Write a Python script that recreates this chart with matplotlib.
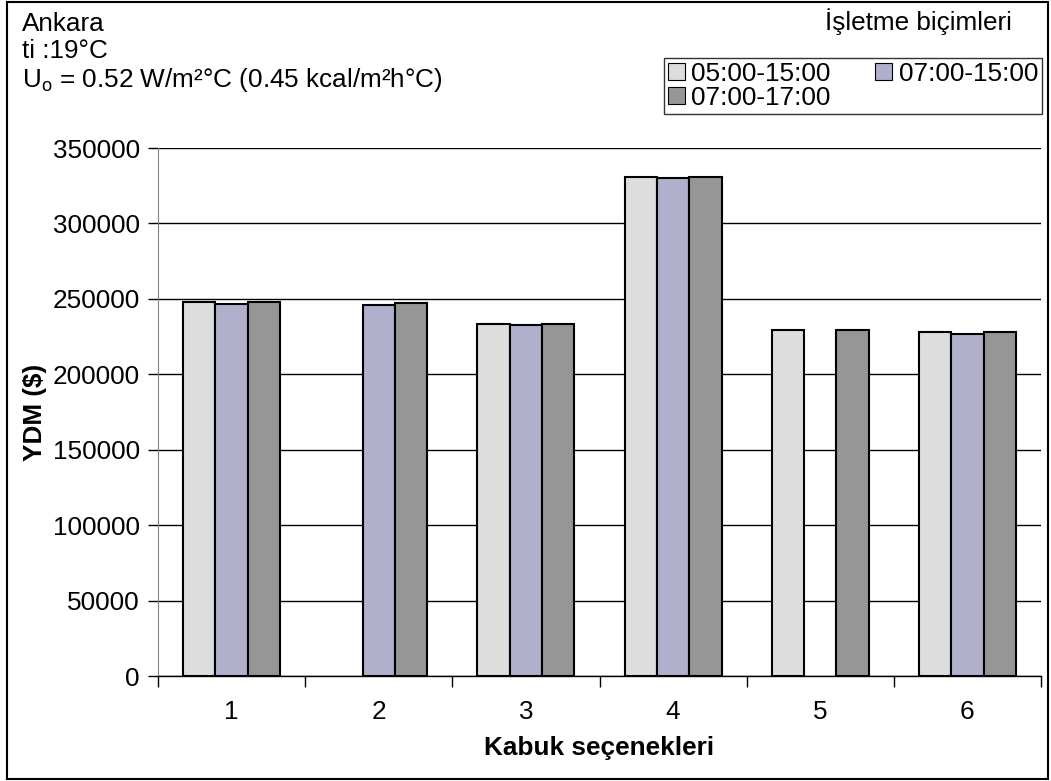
import numpy as np
import matplotlib
matplotlib.use("Agg")
import matplotlib.pyplot as plt
from matplotlib.patches import Rectangle

plt.rcParams['font.family'] = ['Liberation Sans', 'DejaVu Sans']

categories = ["1", "2", "3", "4", "5", "6"]
series_names = ["05:00-15:00", "07:00-15:00", "07:00-17:00"]
s1 = [248000, np.nan, 233600, 331100, 229300, 228200]
s2 = [246900, 245900, 232700, 330100, np.nan, 227000]
s3 = [248000, 247000, 233600, 331100, 229300, 228200]
yticks = [0, 50000, 100000, 150000, 200000, 250000, 300000, 350000]
colors = ["#DDDDDD", "#B0B0CC", "#969696"]

FS = 18.8
W, H = 1051, 781
fig = plt.figure(figsize=(W/100, H/100), dpi=100)
ax = fig.add_axes([158/W, 1-676/H, (1041-158)/W, (676-148)/H])

x = np.arange(len(categories))
w = 0.22
handles = []
for i, (vals, c, name) in enumerate(zip([s1, s2, s3], colors, series_names)):
    b = ax.bar(x + (i-1)*w, vals, width=w, color=c, edgecolor="black", linewidth=1.5,
               label=name, zorder=3)
    handles.append(b)

ax.set_xlim(-0.5, len(categories)-0.5)
ax.set_ylim(0, 350000)
ax.set_yticks(yticks)
ax.set_yticklabels([str(v) for v in yticks], fontsize=FS)
ax.yaxis.grid(True, color="black", linewidth=1.0, zorder=0)
ax.set_axisbelow(True)
ax.set_xticks(x)
ax.set_xticklabels(categories, fontsize=FS)
ax.set_xticks(np.arange(-0.5, len(categories)), minor=True)
ax.tick_params(axis='x', which='major', length=0, pad=17)
ax.tick_params(axis='x', which='minor', length=8, width=1, color="black", direction='out')
ax.tick_params(axis='y', length=7, width=1, direction='out', pad=6)
for s in ["top", "right"]:
    ax.spines[s].set_visible(False)
ax.spines["left"].set_color("#808080")
ax.spines["bottom"].set_linewidth(1.0)

ax.set_xlabel("Kabuk seçenekleri", fontsize=FS, fontweight="bold", labelpad=9)
ax.set_ylabel("YDM ($)", fontsize=FS, fontweight="bold", labelpad=4)

fig.text(22/W, 1-31/H, "Ankara", fontsize=FS, va="baseline", ha="left")
fig.text(22/W, 1-58/H, "ti :19°C", fontsize=FS, va="baseline", ha="left")
fig.text(22/W, 1-87/H, "U$_\\mathregular{o}$ = 0.52 W/m²°C (0.45 kcal/m²h°C)",
         fontsize=FS, va="baseline", ha="left")
fig.text(1012/W, 1-30/H, "İşletme biçimleri", fontsize=FS, va="baseline", ha="right")

order = [0, 2, 1]
leg = fig.legend([handles[i] for i in order], [series_names[i] for i in order],
                 loc="upper right", bbox_to_anchor=(1042/W, 1-58/H), ncol=2,
                 fontsize=FS, frameon=True, fancybox=False, edgecolor="black",
                 handlelength=0.65, handleheight=0.65, handletextpad=0.25,
                 columnspacing=1.7, labelspacing=0.0, borderpad=0.15, borderaxespad=0)
leg.get_frame().set_linewidth(1.0)
for h in leg.legend_handles:
    h.set_linewidth(0.8)

fig.patches.append(Rectangle((7/W, 2/H), 1041/W, 777/H, transform=fig.transFigure,
                             fill=False, edgecolor="black", linewidth=1.5))

fig.savefig("out.png", dpi=100, facecolor="white")
